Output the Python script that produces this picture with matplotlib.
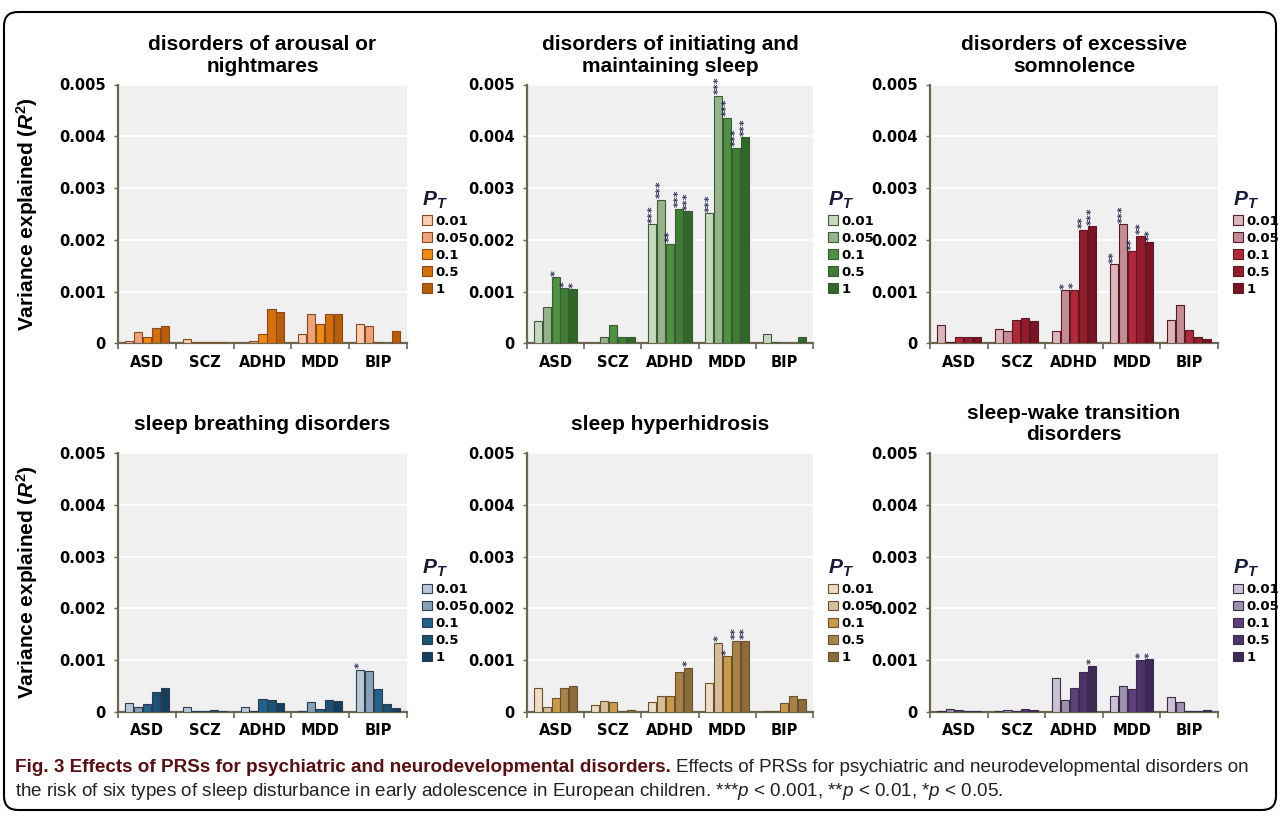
import numpy as np
import matplotlib
matplotlib.use("Agg")
import matplotlib.pyplot as plt
from matplotlib.patches import FancyBboxPatch
from matplotlib.transforms import IdentityTransform

plt.rcParams['mathtext.fontset'] = 'custom'
plt.rcParams['mathtext.rm'] = 'Liberation Sans:bold'
plt.rcParams['mathtext.it'] = 'Liberation Sans:italic'
plt.rcParams['mathtext.bf'] = 'Liberation Sans:italic:bold'

# data: rows = PRS disorder, columns = P_T threshold
categories = ['ASD', 'SCZ', 'ADHD', 'MDD', 'BIP']
thresholds = ['0.01', '0.05', '0.1', '0.5', '1']

titles = ['disorders of arousal or\nnightmares',
          'disorders of initiating and\nmaintaining sleep',
          'disorders of excessive\nsomnolence',
          'sleep breathing disorders',
          'sleep hyperhidrosis',
          'sleep-wake transition\ndisorders']

arousal = [[0.00005, 0.00022, 0.00012, 0.00029, 0.00033],
           [0.00008, 0.00002, 0.00003, 0.00003, 0.00002],
           [0.00001, 0.00005, 0.00019, 0.00067, 0.00060],
           [0.00018, 0.00056, 0.00037, 0.00057, 0.00056],
           [0.00038, 0.00033, 0.00002, 0.00001, 0.00025]]
initiating = [[0.00044, 0.00070, 0.00128, 0.00107, 0.00105],
              [0.00001, 0.00013, 0.00035, 0.00012, 0.00013],
              [0.00230, 0.00277, 0.00193, 0.00260, 0.00255],
              [0.00251, 0.00478, 0.00436, 0.00378, 0.00398],
              [0.00018, 0.00002, 0.00000, 0.00001, 0.00013]]
somnolence = [[0.00035, 0.00002, 0.00012, 0.00013, 0.00013],
              [0.00028, 0.00025, 0.00046, 0.00049, 0.00043],
              [0.00025, 0.00103, 0.00104, 0.00220, 0.00226],
              [0.00153, 0.00230, 0.00178, 0.00208, 0.00195],
              [0.00046, 0.00075, 0.00027, 0.00013, 0.00009]]
breathing = [[0.00018, 0.00010, 0.00015, 0.00038, 0.00046],
             [0.00010, 0.00002, 0.00002, 0.00003, 0.00002],
             [0.00009, 0.00002, 0.00025, 0.00023, 0.00018],
             [0.00002, 0.00019, 0.00005, 0.00023, 0.00022],
             [0.00082, 0.00080, 0.00044, 0.00015, 0.00008]]
hyperhidrosis = [[0.00047, 0.00009, 0.00027, 0.00046, 0.00050],
                 [0.00013, 0.00022, 0.00020, 0.00002, 0.00003],
                 [0.00020, 0.00031, 0.00030, 0.00078, 0.00085],
                 [0.00056, 0.00134, 0.00108, 0.00138, 0.00138],
                 [0.00001, 0.00001, 0.00017, 0.00031, 0.00025]]
transition = [[0.00001, 0.00005, 0.00003, 0.00002, 0.00001],
              [0.00001, 0.00004, 0.00002, 0.00005, 0.00003],
              [0.00066, 0.00024, 0.00046, 0.00078, 0.00089],
              [0.00031, 0.00050, 0.00044, 0.00101, 0.00102],
              [0.00029, 0.00020, 0.00002, 0.00001, 0.00004]]

# significance stars (number of asterisks)
stars_arousal = [[0] * 5] * 5
stars_initiating = [[0, 0, 1, 1, 1],
                    [0, 0, 0, 0, 0],
                    [3, 3, 2, 3, 3],
                    [3, 3, 3, 3, 3],
                    [0, 0, 0, 0, 0]]
stars_somnolence = [[0, 0, 0, 0, 0],
                    [0, 0, 0, 0, 0],
                    [0, 1, 1, 2, 3],
                    [2, 3, 2, 2, 2],
                    [0, 0, 0, 0, 0]]
stars_breathing = [[0, 0, 0, 0, 0],
                   [0, 0, 0, 0, 0],
                   [0, 0, 0, 0, 0],
                   [0, 0, 0, 0, 0],
                   [1, 0, 0, 0, 0]]
stars_hyperhidrosis = [[0, 0, 0, 0, 0],
                       [0, 0, 0, 0, 0],
                       [0, 0, 0, 0, 1],
                       [0, 1, 1, 2, 2],
                       [0, 0, 0, 0, 0]]
stars_transition = [[0, 0, 0, 0, 0],
                    [0, 0, 0, 0, 0],
                    [0, 0, 0, 0, 1],
                    [0, 0, 0, 1, 1],
                    [0, 0, 0, 0, 0]]

panels = [arousal, initiating, somnolence, breathing, hyperhidrosis, transition]
panel_stars = [stars_arousal, stars_initiating, stars_somnolence,
               stars_breathing, stars_hyperhidrosis, stars_transition]

palettes = [
    ['#f9cbb0', '#f2a27a', '#f08a10', '#d66f08', '#b85e06'],
    ['#c6d9bf', '#95b48c', '#4f9142', '#3d7d34', '#2f6828'],
    ['#dcb6bd', '#c48c95', '#b2283a', '#951c2c', '#7a1424'],
    ['#b9c9d8', '#8aa1b6', '#23628a', '#1b5276', '#143f5e'],
    ['#eddcc6', '#d8be98', '#c99a4a', '#a88246', '#8c6c3a'],
    ['#cbc3d3', '#9d92ac', '#5e3f7c', '#4d336a', '#3d2a56'],
]
edges = ['#8a4a20', '#3d5a36', '#5a1a22', '#2a3e50', '#6a5230', '#3a2c48']

fig = plt.figure(figsize=(12.81, 8.16), dpi=100)
W, H = 1281, 816

# axes boxes in pixels: (left, top, width, height)
boxes = [(118, 84.5, 289, 259), (527, 84.5, 286, 259), (930, 84.5, 288, 259),
         (118, 453, 289, 259), (527, 453, 286, 259), (930, 453, 288, 259)]

x = np.arange(len(categories))
step, bw = 0.155, 0.14

for k in range(6):
    l, t, w, h = boxes[k]
    ax = fig.add_axes([l / W, 1 - (t + h) / H, w / W, h / H])
    ax.set_facecolor('#f0f0f0')
    vals = np.array(panels[k])
    st = np.array(panel_stars[k])
    for j, th in enumerate(thresholds):
        xs = x + (j - 2) * step
        ax.bar(xs, vals[:, j], width=bw, color=palettes[k][j],
               edgecolor=edges[k], linewidth=0.8, label=th, zorder=3)
        for i in range(len(categories)):
            if st[i, j] > 0:
                ax.text(xs[i], vals[i, j] + 0.00003, '*' * st[i, j],
                        rotation=90, ha='center', va='bottom', fontsize=8,
                        fontweight='bold', color='#2b2b55', zorder=4)
    ax.set_xlim(-0.5, 4.5)
    ax.set_ylim(0, 0.005)
    ax.set_yticks([0, 0.001, 0.002, 0.003, 0.004, 0.005])
    ax.set_yticklabels(['0', '0.001', '0.002', '0.003', '0.004', '0.005'])
    ax.yaxis.grid(True, color='white', linewidth=1.2, zorder=1)
    ax.set_axisbelow(True)
    ax.set_xticks(x)
    ax.set_xticklabels(categories)
    ax.set_xticks(np.arange(-0.5, 5.0, 1.0), minor=True)
    ax.tick_params(axis='x', which='major', length=0, pad=8)
    ax.tick_params(axis='x', which='minor', length=4, width=1.2, color='#6b6650')
    ax.tick_params(axis='y', length=3, width=1.0, color='#6b6650', pad=6)
    for lab in ax.get_xticklabels():
        lab.set_fontfamily('DejaVu Sans')
        lab.set_fontweight('bold')
        lab.set_fontsize(10.5)
    for lab in ax.get_yticklabels():
        lab.set_fontfamily('DejaVu Sans')
        lab.set_fontweight('bold')
        lab.set_fontsize(10.5)
    for s in ['top', 'right']:
        ax.spines[s].set_visible(False)
    for s in ['left', 'bottom']:
        ax.spines[s].set_color('#6b6650')
        ax.spines[s].set_linewidth(1.6)

    ax.text(0.5, 1 + 29 / h, titles[k], transform=ax.transAxes, ha='center',
            va='center', fontsize=15, fontweight='bold',
            family='Liberation Sans', linespacing=1.15)

    if k % 3 == 0:
        ax.set_ylabel(r'Variance explained ($\mathbf{R}^{2}$)', fontsize=15,
                      fontweight='bold', family='Liberation Sans')
        ax.yaxis.set_label_coords(-0.27, 0.5)

    leg = ax.legend(title=r'$\mathbf{P}_{\mathbf{T}}$', loc='upper left',
                    bbox_to_anchor=(1.035, 0.615), frameon=False,
                    borderaxespad=0, handlelength=0.75, handleheight=0.75,
                    handletextpad=0.25, labelspacing=0.3,
                    prop={'family': 'DejaVu Sans', 'weight': 'bold', 'size': 9.5})
    leg.get_title().set_fontsize(15)
    leg.get_title().set_color('#1a1a3a')
    leg._legend_box.align = 'left'

# caption
cap_font = ['Liberation Sans Narrow', 'Liberation Sans']
t1 = fig.text(15 / W, 1 - 767 / H,
              'Fig. 3 Effects of PRSs for psychiatric and neurodevelopmental disorders.',
              fontsize=13.6, fontweight='bold', family=cap_font, color='#5a0f12',
              va='center', ha='left')
fig.canvas.draw()
bb = t1.get_window_extent()
fig.text((bb.x1 + 5) / W, 1 - 767 / H,
         'Effects of PRSs for psychiatric and neurodevelopmental disorders on',
         fontsize=13.6, family=cap_font, color='#222222', va='center', ha='left')
fig.text(15 / W, 1 - 791 / H,
         r'the risk of six types of sleep disturbance in early adolescence in European children. '
         r'***$p$ < 0.001, **$p$ < 0.01, *$p$ < 0.05.',
         fontsize=13.6, family=cap_font, color='#222222', va='center', ha='left')

# rounded frame around the whole figure
frame = FancyBboxPatch((4, 6), 1272, 798, boxstyle='round,pad=0,rounding_size=14',
                       transform=IdentityTransform(), facecolor='none',
                       edgecolor='black', linewidth=1.5)
fig.add_artist(frame)

fig.savefig('out.png', dpi=100)
